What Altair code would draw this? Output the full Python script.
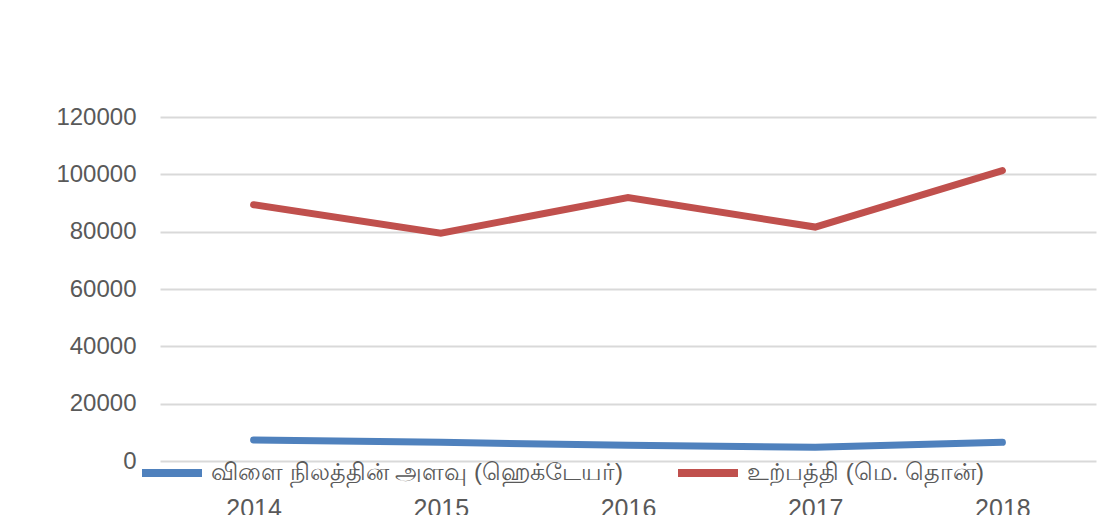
import altair as alt
import pandas as pd

years = ["2014", "2015", "2016", "2017", "2018"]
area_label = "விளை நிலத்தின் அளவு (ஹெக்டேயர்)"
prod_label = "உற்பத்தி (மெ. தொன்)"
area_values = [7300, 6500, 5500, 4800, 6500]
prod_values = [89400, 79500, 91900, 81600, 101300]
y_ticks = [0, 20000, 40000, 60000, 80000, 100000, 120000]
series_order = [area_label, prod_label]
series_colors = ["#4F81BD", "#C0504D"]

rows = []
for y, v in zip(years, area_values):
    rows.append({"year": y, "series": area_label, "value": v})
for y, v in zip(years, prod_values):
    rows.append({"year": y, "series": prod_label, "value": v})
df = pd.DataFrame(rows)

FONT = "Liberation Sans"

chart = alt.Chart(df).mark_line(strokeWidth=7, strokeCap="round", strokeJoin="miter").encode(
    x=alt.X("year:N", sort=years,
            scale=alt.Scale(type="point", padding=0.5),
            axis=alt.Axis(title=None, domain=False, ticks=False, grid=False,
                          labelAngle=0, labelFont=FONT, labelFontSize=25,
                          labelColor="#595959", labelPadding=35, labelBaseline="top")),
    y=alt.Y("value:Q", scale=alt.Scale(domain=[0, 120000], nice=False),
            axis=alt.Axis(title=None, domain=False, ticks=False, values=y_ticks,
                          grid=True, gridColor="#d9d9d9", gridWidth=2,
                          labelFont=FONT, labelFontSize=24, labelColor="#595959",
                          labelPadding=24, format="d")),
    color=alt.Color("series:N", sort=series_order,
                    scale=alt.Scale(domain=series_order, range=series_colors),
                    legend=alt.Legend(title=None, orient="none", direction="horizontal",
                                      legendX=-22, legendY=322, padding=0,
                                      symbolType="stroke", symbolStrokeWidth=8,
                                      symbolSize=3600, labelFontSize=24,
                                      labelColor="#595959", labelLimit=600,
                                      columnPadding=39, labelOffset=5)),
    detail="series:N",
).properties(
    width=936, height=344,
    background="white",
    autosize=alt.AutoSizeParams(type="none"),
    padding={"left": 152, "top": 109, "right": 7, "bottom": 54},
).configure_view(stroke=None)

chart.save("out.html", embed_options={"renderer": "svg", "actions": False})
